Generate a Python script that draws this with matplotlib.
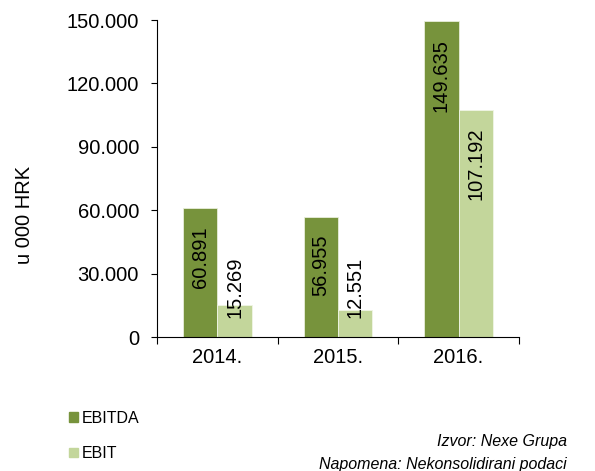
import matplotlib.pyplot as plt
import matplotlib.patches as mpatches
import numpy as np

plt.rcParams['font.family'] = ['Liberation Sans', 'DejaVu Sans']

# data
years = ['2014.', '2015.', '2016.']
ebitda = [60891, 56955, 149635]
ebit = [15269, 12551, 107192]
labels_ebitda = ['60.891', '56.955', '149.635']
labels_ebit = ['15.269', '12.551', '107.192']
yticks = [0, 30000, 60000, 90000, 120000, 150000]
ytick_labels = ['0', '30.000', '60.000', '90.000', '120.000', '150.000']

dark = '#77933c'
light = '#c3d69b'

fig = plt.figure(figsize=(5.95, 4.71), dpi=100)
ax = fig.add_axes([0.264, 0.2845, 0.608, 0.673])

x = np.arange(len(years))
w = 0.285
b1 = ax.bar(x - 0.142, ebitda, w, color=dark, edgecolor='#e8eedb', linewidth=0.6)
b2 = ax.bar(x + 0.143, ebit, w, color=light, edgecolor='#f0f5e6', linewidth=0.6)

# value labels, rotated inside bars
for xi, v, s in zip(x - 0.142, ebitda, labels_ebitda):
    ax.annotate(s, (xi, v), xytext=(0, -13), textcoords='offset points',
                rotation=90, ha='center', va='top', fontsize=14.5)
for xi, v, s in zip(x + 0.143, ebit, labels_ebit):
    if v < 30000:
        ax.annotate(s, (xi, 0), xytext=(0, 14), textcoords='offset points',
                    rotation=90, ha='center', va='bottom', fontsize=14.5)
    else:
        ax.annotate(s, (xi, v), xytext=(0, -12), textcoords='offset points',
                    rotation=90, ha='center', va='top', fontsize=14.5)

ax.set_xlim(-0.5, 2.5)
ax.set_ylim(0, 150000)
ax.set_yticks(yticks)
ax.set_yticklabels(ytick_labels, fontsize=14.5)
ax.set_xticks(x)
ax.set_xticklabels(years, fontsize=14.5)
ax.set_xticks([-0.5, 0.5, 1.5, 2.5], minor=True)
ax.tick_params(axis='x', which='major', length=0, pad=8)
ax.tick_params(axis='x', which='minor', length=5, direction='out', width=0.8)
ax.tick_params(axis='y', length=4, width=0.8, pad=9)
ax.spines['top'].set_visible(False)
ax.spines['right'].set_visible(False)
ax.set_ylabel('u 000 HRK', fontsize=14.5)
ax.yaxis.set_label_coords(-0.34, 0.385)

handles = [mpatches.Patch(color=dark, label='EBITDA'),
           mpatches.Patch(color=light, label='EBIT')]
fig.legend(handles=handles, loc='upper left', bbox_to_anchor=(0.105, 0.142),
           frameon=False, fontsize=11.5, handlelength=0.55, handleheight=0.55,
           handletextpad=0.25, labelspacing=1.3, borderaxespad=0)

fig.text(0.953, 0.062, 'Izvor: Nexe Grupa', ha='right', va='center',
         fontsize=11.5, style='italic')
fig.text(0.953, 0.014, 'Napomena: Nekonsolidirani podaci', ha='right', va='center',
         fontsize=11.5, style='italic')

fig.savefig('out.png', dpi=100)
